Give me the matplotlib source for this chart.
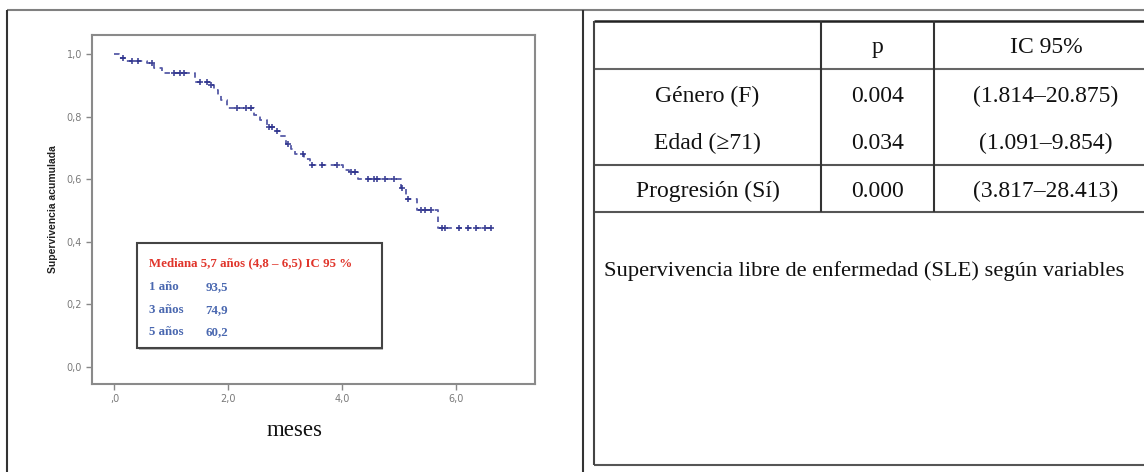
import numpy as np
import matplotlib
matplotlib.use("Agg")
import matplotlib.pyplot as plt
from matplotlib.patches import Rectangle
from matplotlib.lines import Line2D

# ---------------- data ----------------
step_times = [0.0, 0.08, 0.21, 0.57, 0.70, 0.83, 1.42, 1.68, 1.74, 1.81, 1.87, 1.97,
              2.45, 2.55, 2.68, 2.81, 2.91, 3.01, 3.10, 3.17, 3.33, 3.43, 4.01, 4.11,
              4.27, 5.02, 5.12, 5.31, 5.67]
surv = [1.0, 0.989, 0.977, 0.970, 0.955, 0.939, 0.910, 0.902, 0.886, 0.870, 0.854, 0.826,
        0.806, 0.790, 0.766, 0.753, 0.737, 0.713, 0.695, 0.679, 0.663, 0.645, 0.630, 0.623,
        0.602, 0.572, 0.538, 0.500, 0.443]
end_time = 6.68
censor_times = [0.15, 0.30, 0.42, 0.65, 1.05, 1.15, 1.22, 1.50, 1.62, 1.70, 2.15, 2.30,
                2.40, 2.72, 2.76, 2.85, 3.05, 3.30, 3.47, 3.65, 3.90, 4.15, 4.22, 4.45,
                4.55, 4.60, 4.75, 4.90, 5.05, 5.15, 5.38, 5.45, 5.55, 5.75, 5.80, 6.05,
                6.20, 6.35, 6.50, 6.60]

y_ticks = [0.0, 0.2, 0.4, 0.6, 0.8, 1.0]
y_tick_labels = ["0,0", "0,2", "0,4", "0,6", "0,8", "1,0"]
x_ticks = [0, 2, 4, 6]
x_tick_labels = [",0", "2,0", "4,0", "6,0"]

legend_title = "Mediana 5,7 años (4,8 – 6,5) IC 95 %"
legend_periods = ["1 año", "3 años", "5 años"]
legend_values = ["93,5", "74,9", "60,2"]

header = ["", "p", "IC 95%"]
row_labels = ["Género (F)", "Edad (≥71)", "Progresión (Sí)"]
p_values = ["0.004", "0.034", "0.000"]
ic_values = ["(1.814–20.875)", "(1.091–9.854)", "(3.817–28.413)"]
caption = "Supervivencia libre de enfermedad (SLE) según variables"
x_title = "meses"
y_title = "Supervivencia acumulada"

# ---------------- figure ----------------
W, H = 1144, 472
fig = plt.figure(figsize=(W / 100, H / 100), dpi=100)

def fx(x):
    return x / W

def fy(y):
    return 1 - y / H

def hline(y, x0, x1, color="#555555", lw=1.5):
    fig.add_artist(Line2D([fx(x0), fx(x1)], [fy(y), fy(y)], color=color, lw=lw,
                          transform=fig.transFigure, solid_capstyle="butt"))

def vline(x, y0, y1, color="#555555", lw=1.5):
    fig.add_artist(Line2D([fx(x), fx(x)], [fy(y0), fy(y1)], color=color, lw=lw,
                          transform=fig.transFigure, solid_capstyle="butt"))

serif = ["Liberation Serif", "DejaVu Serif"]

# outer frame
hline(10, 7, W, color="#808080", lw=1.5)
vline(7, 10, H, color="#333333", lw=1.5)
vline(583, 10, H, color="#333333", lw=1.5)

# ---------------- KM plot ----------------
ax = fig.add_axes([fx(91.7), fy(384), (535 - 91.7) / W, (384 - 35) / H])
t_arr = np.array(step_times + [end_time])
s_arr = np.array(surv + [surv[-1]])
ax.step(t_arr, s_arr, where="post", color="#3a3f98", lw=1.3, ls=(0, (3, 2.5)), alpha=0.85)
ct = np.array(censor_times)
idx = np.searchsorted(np.array(step_times), ct, side="right") - 1
cs = np.array(surv)[idx]
ax.plot(ct, cs, ls="none", marker="+", ms=4.5, mew=1.2, color="#2c318c", alpha=0.9)

ax.set_xlim(-0.40, 7.38)
ax.set_ylim(-0.055, 1.061)
ax.set_yticks(y_ticks)
ax.set_yticklabels(y_tick_labels)
ax.set_xticks(x_ticks)
ax.set_xticklabels(x_tick_labels)
ax.tick_params(axis="both", direction="out", length=4, width=1, color="#888888",
               labelsize=7, labelcolor="#7a7a7a", pad=3)
for sp in ax.spines.values():
    sp.set_color("#8a8a8a")
    sp.set_linewidth(1.5)
ax.set_ylabel(y_title, fontsize=7.5, fontweight="bold", family="Liberation Sans",
              color="#222222")
ax.yaxis.set_label_coords((58 - 91.7) / (535 - 91.7), 0.5)

# legend box
bx0, bx1 = (137 - 91.7) / 443.3, (381.7 - 91.7) / 443.3
by0, by1 = (384 - 348.3) / 349, (384 - 242.7) / 349
ax.add_patch(Rectangle((bx0 + 0.004, by0 - 0.006), bx1 - bx0, by1 - by0,
                       transform=ax.transAxes, facecolor="#bbbbbb", edgecolor="none",
                       zorder=4))
ax.add_patch(Rectangle((bx0, by0), bx1 - bx0, by1 - by0, transform=ax.transAxes,
                       facecolor="white", edgecolor="#444444", lw=1.5, zorder=5))
tx = (149 - 91.7) / 443.3
vx = (205.7 - 91.7) / 443.3
ax.text(tx, (384 - 263.3) / 349, legend_title, transform=ax.transAxes, color="#e0352b",
        fontsize=9.3, fontweight="bold", family=serif, va="center", ha="left", zorder=6)
for i, (per, val) in enumerate(zip(legend_periods, legend_values)):
    yy = (384 - [287, 310, 331.7][i]) / 349
    ax.text(tx, yy, per, transform=ax.transAxes, color="#4a68b0", fontsize=9.3,
            fontweight="bold", family=serif, va="center", ha="left", zorder=6)
    ax.text(vx, yy, val, transform=ax.transAxes, color="#4a68b0", fontsize=9.3,
            fontweight="bold", family=serif, va="center", ha="left", zorder=6)

fig.text(fx(295), fy(436), x_title, fontsize=16.5, family=serif, ha="center",
         va="baseline", color="#111111")

# ---------------- table ----------------
tl, tr = 594, W
col1, col2 = 821, 934
top, hdr, mid, low, bot = 21, 69, 165, 212, 465
hline(top, tl, tr, color="#222222", lw=1.8)
hline(hdr, tl, tr, color="#666666", lw=1.5)
hline(mid, tl, tr, color="#555555", lw=1.5)
hline(low, tl, tr, color="#555555", lw=1.5)
hline(bot, tl, tr, color="#555555", lw=1.5)
vline(tl, top, bot, color="#444444", lw=1.5)
vline(col1, top, low, color="#333333", lw=1.5)
vline(col2, top, low, color="#333333", lw=1.5)

cx = [(tl + col1) / 2, (col1 + col2) / 2, 1046]
fs = 17
for j, h in enumerate(header):
    fig.text(fx(cx[j]), fy(53.3), h, fontsize=fs, family=serif, ha="center",
             va="baseline", color="#111111")
row_base = [101.7, 149, 196.7]
for i in range(len(row_labels)):
    for j, val in enumerate([row_labels[i], p_values[i], ic_values[i]]):
        fig.text(fx(cx[j]), fy(row_base[i]), val, fontsize=fs, family=serif,
                 ha="center", va="baseline", color="#111111")
fig.text(fx(604), fy(276), caption, fontsize=16.2, family=serif, ha="left",
         va="baseline", color="#111111")

fig.savefig("out.png", dpi=100)
